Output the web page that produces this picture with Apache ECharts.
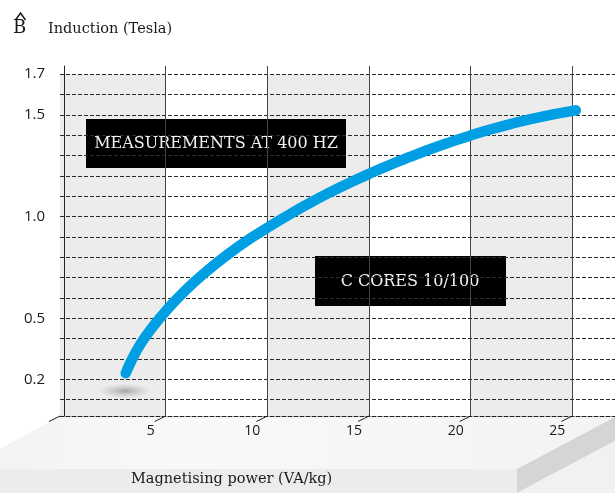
<!DOCTYPE html>
<html><head><meta charset="utf-8">
<script src="https://cdn.jsdelivr.net/npm/echarts@6/dist/echarts.min.js"></script>
<style>html,body{margin:0;padding:0;background:#fff}#c{width:615px;height:493px}</style>
</head><body><div id="c"></div>
<script>
// Data
const powerValues = [3.03, 3.4, 3.8, 4.3, 5.0, 6.0, 7.0, 8.0, 9.0, 10.0, 11.0, 12.0, 13.0, 14.0, 15.0, 16.0, 17.0, 18.0, 19.0, 20.0, 21.0, 22.0, 23.0, 24.0, 25.17];
const inductionValues = [0.23, 0.31, 0.38, 0.45, 0.535, 0.64, 0.73, 0.81, 0.882, 0.945, 1.005, 1.062, 1.115, 1.164, 1.21, 1.253, 1.293, 1.331, 1.366, 1.399, 1.429, 1.456, 1.48, 1.501, 1.522];
const xTickValues = [5, 10, 15, 20, 25];
const yGridValues = [0.1, 0.2, 0.3, 0.4, 0.5, 0.6, 0.7, 0.8, 0.9, 1.0, 1.1, 1.2, 1.3, 1.4, 1.5, 1.6, 1.7];
const yLabelValues = [0.2, 0.5, 1.0, 1.5, 1.7];
const shadedBands = [[-0.2, 5], [10, 15], [20, 25]];
const xMin = -0.2, xMax = 27.1, yMin = 0.02, yMax = 1.74, bandTop = 1.7;

const curve = powerValues.map((x, i) => [x, inductionValues[i]]);
const tickStarts = [xMin].concat(xTickValues).map(v => [v]);

const chart = echarts.init(document.getElementById('c'), null, {renderer: 'canvas'});
const serif = '"DejaVu Serif", serif';
const sans = '"Open Sans", sans-serif';

chart.setOption({
  animation: false,
  backgroundColor: '#ffffff',
  grid: {left: 60, right: 0, top: 66, height: 350, outerBoundsMode: 'none', containLabel: false},
  xAxis: {
    type: 'value', min: xMin, max: xMax,
    axisLine: {show: true, onZero: false, lineStyle: {color: '#222', width: 1, type: [4, 2]}},
    axisTick: {show: false, customValues: xTickValues},
    axisLabel: {show: true, customValues: xTickValues, color: '#1a1a1a', fontFamily: sans, fontSize: 14,
      margin: 8, align: 'center', padding: [0, 30, 0, 0]},
    splitLine: {show: true, lineStyle: {color: '#444', width: 1, type: 'solid'}}
  },
  yAxis: {
    type: 'value', min: yMin, max: yMax,
    axisLine: {show: true, lineStyle: {color: '#222', width: 1}},
    axisTick: {show: false, customValues: yGridValues},
    axisLabel: {show: true, customValues: yLabelValues, color: '#1a1a1a', fontFamily: sans, fontSize: 15,
      margin: 15, padding: [0, 0, 6, 0], formatter: v => Number(v).toFixed(1)},
    splitLine: {show: true, lineStyle: {color: '#2a2a2a', width: 1, type: [4, 2]}}
  },
  series: [
    {
      type: 'custom', z: -1, silent: true,
      data: shadedBands,
      encode: {x: [0, 1]},
      renderItem: function (params, api) {
        const p0 = api.coord([api.value(0), bandTop]);
        const p1 = api.coord([api.value(1), yMin]);
        return {type: 'rect', shape: {x: p0[0], y: p0[1], width: p1[0] - p0[0], height: p1[1] - p0[1]},
          style: {fill: '#ececec'}};
      }
    },
    {
      type: 'custom', z: 3, silent: true,
      data: tickStarts,
      encode: {x: 0},
      renderItem: function (params, api) {
        const p = api.coord([api.value(0), yMin]);
        return {type: 'line', shape: {x1: p[0], y1: p[1], x2: p[0] - 11, y2: p[1] + 5.5},
          style: {stroke: '#222', lineWidth: 1}};
      }
    },
    {
      type: 'line', data: curve, smooth: 0.5, showSymbol: false, symbol: 'none', z: 5,
      lineStyle: {color: '#009fe3', width: 10.5, cap: 'round', join: 'round'}
    }
  ],
  graphic: [
    // floor slab (decorative)
    {type: 'polygon', z: -20, silent: true,
      shape: {points: [[60, 416], [615, 416], [615, 417], [517, 469], [0, 469], [0, 449]]},
      style: {fill: new echarts.graphic.LinearGradient(0, 0, 1, 0, [
        {offset: 0, color: '#f3f3f3'}, {offset: 0.3, color: '#f9f9f9'}, {offset: 1, color: '#f3f3f3'}])}},
    {type: 'rect', z: -20, silent: true, shape: {x: 0, y: 469, width: 517, height: 24}, style: {fill: '#ececec'}},
    {type: 'polygon', z: -20, silent: true, shape: {points: [[517, 469], [615, 417], [615, 441], [517, 493]]},
      style: {fill: '#d5d5d5'}},
    {type: 'polygon', z: -20, silent: true, shape: {points: [[517, 493], [615, 441], [615, 493]]},
      style: {fill: '#f1f1f1'}},
    // soft shadow under curve start
    {type: 'circle', z: 1, silent: true, x: 125, y: 391, scaleY: 0.28, shape: {cx: 0, cy: 0, r: 26},
      style: {fill: new echarts.graphic.RadialGradient(0.5, 0.5, 0.5, [
        {offset: 0, color: 'rgba(0,0,0,0.3)'}, {offset: 0.5, color: 'rgba(0,0,0,0.12)'}, {offset: 1, color: 'rgba(0,0,0,0)'}])}},
    // axis titles
    {type: 'polyline', z: 10, silent: true, shape: {points: [[15.5, 20], [20.5, 13], [25.5, 20]]},
      style: {stroke: '#1a1a1a', lineWidth: 1.5, fill: null}},
    {type: 'text', left: 13, top: 19, z: 10, style: {text: 'B', font: '18px ' + serif, fill: '#1a1a1a'}},
    {type: 'text', left: 48, top: 22, z: 10, style: {text: 'Induction (Tesla)', font: '14.5px ' + serif, fill: '#1a1a1a'}},
    {type: 'text', left: 131, top: 472, z: 10, style: {text: 'Magnetising power (VA/kg)', font: '14.5px ' + serif, fill: '#1a1a1a'}},
    // annotation boxes
    {type: 'group', left: 86, top: 119, z: 10, children: [
      {type: 'rect', shape: {x: 0, y: 0, width: 260, height: 49}, style: {fill: '#000'}},
      {type: 'text', style: {text: 'MEASUREMENTS AT 400 HZ', x: 130, y: 25, align: 'center', verticalAlign: 'middle',
        font: '16px ' + serif, fill: '#f2f2f2'}}
    ]},
    {type: 'group', left: 315, top: 256, z: 10, children: [
      {type: 'rect', shape: {x: 0, y: 0, width: 191, height: 50}, style: {fill: '#000'}},
      {type: 'text', style: {text: 'C CORES 10/100', x: 95, y: 26, align: 'center', verticalAlign: 'middle',
        font: '16px ' + serif, fill: '#f2f2f2'}}
    ]}
  ]
});
</script></body></html>
